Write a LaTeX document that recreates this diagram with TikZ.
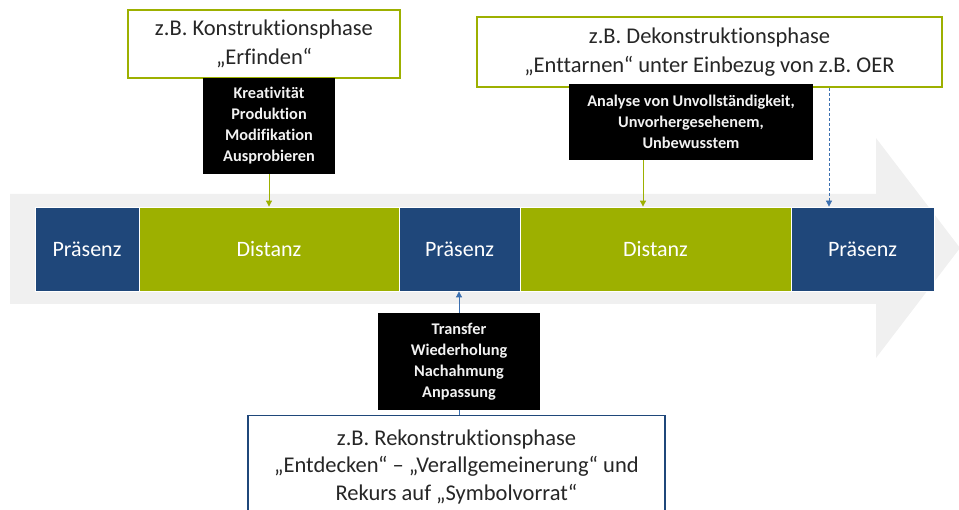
\documentclass[tikz,border=0pt]{standalone}
\usepackage{fontspec}
\setmainfont{Carlito}[Ligatures=NoCommon]
\usetikzlibrary{arrows.meta,calc}

\definecolor{phaseblue}{RGB}{31,71,122}
\definecolor{phasegreen}{RGB}{157,176,0}
\definecolor{arrowgrey}{RGB}{240,240,240}
\definecolor{textdark}{RGB}{38,38,38}
\definecolor{linkblue}{RGB}{58,110,175}

\tikzset{
  phase/.style={draw=white, line width=0.8pt, text=white, minimum height=84pt,
    inner sep=0pt, font=\fontsize{22}{26}\selectfont},
  praesenz/.style={phase, fill=phaseblue},
  distanz/.style={phase, fill=phasegreen},
  infobox/.style={fill=black, text=white!95!black, align=center, inner sep=0pt,
    font=\bfseries\fontsize{16.3}{21}\selectfont},
  titlebox/.style={draw, fill=white, line width=1.1pt, align=center, inner sep=0pt,
    text=textdark, font=\fontsize{22.5}{29}\selectfont},
  greenlink/.style={draw=phasegreen, line width=0.9pt, -{Triangle[length=6pt,width=6pt]}},
  bluelink/.style={draw=linkblue, line width=0.8pt, -{Triangle[length=6pt,width=6pt]}}
}

\begin{document}
\begin{tikzpicture}[x=1pt, y=-1pt]
  \useasboundingbox (0,0) rectangle (959,510);
  \clip (0,0) rectangle (959,510);

  % wide background arrow
  \fill[arrowgrey] (10,194) -- (876,194) -- (876,138) -- (960,248)
    -- (876,358) -- (876,304) -- (10,304) -- cycle;

  % timeline of phases
  \node[praesenz, minimum width=104pt] (p1) at (87,249) {Präsenz};
  \node[distanz,  minimum width=260pt] (d1) at (269,249) {Distanz};
  \node[praesenz, minimum width=121pt] (p2) at (459.5,249) {Präsenz};
  \node[distanz,  minimum width=271pt] (d2) at (655.5,249) {Distanz};
  \node[praesenz, minimum width=143pt] (p3) at (862.5,249) {Präsenz};

  % construction phase
  \node[titlebox, draw=phasegreen, minimum width=272pt, minimum height=68pt] (kon) at (264,44)
    {z.B. Konstruktionsphase\\„Erfinden“};
  \node[infobox, minimum width=132pt, minimum height=96pt] (konbox) at (269,126)
    {Kreativität\\Produktion\\Modifikation\\Ausprobieren};
  \draw[greenlink] (konbox.south) -- (konbox.south |- d1.north);

  % deconstruction phase
  \node[titlebox, draw=phasegreen, minimum width=465pt, minimum height=70pt] (dek) at (709.5,52)
    {z.B. Dekonstruktionsphase\\„Enttarnen“ unter Einbezug von z.B. OER};
  \node[infobox, minimum width=244pt, minimum height=76pt] (dekbox) at (691,122)
    {Analyse von Unvollständigkeit,\\Unvorhergesehenem,\\Unbewusstem};
  \draw[greenlink] ([xshift=-48pt]dekbox.south) -- ([xshift=-48pt]dekbox.south |- d2.north);
  \draw[bluelink, dashed, dash pattern=on 3pt off 2pt]
    ([xshift=-33.5pt]p3.north |- dek.south) -- ([xshift=-33.5pt]p3.north);

  % reconstruction phase
  \node[infobox, minimum width=162pt, minimum height=97pt] (rekbox) at (459,361.5)
    {Transfer\\Wiederholung\\Nachahmung\\Anpassung};
  \node[titlebox, draw=phaseblue, anchor=north, minimum width=417pt, minimum height=102pt,
    font=\fontsize{22.5}{27.5}\selectfont] (rek) at (456.5,415)
    {z.B. Rekonstruktionsphase\\„Entdecken“ – „Verallgemeinerung“ und\\Rekurs auf „Symbolvorrat“};
  \draw[bluelink] (rekbox.north) -- (rekbox.north |- p2.south);
  \draw[draw=linkblue, line width=0.8pt] (rekbox.south) -- (rekbox.south |- rek.north);
\end{tikzpicture}
\end{document}
